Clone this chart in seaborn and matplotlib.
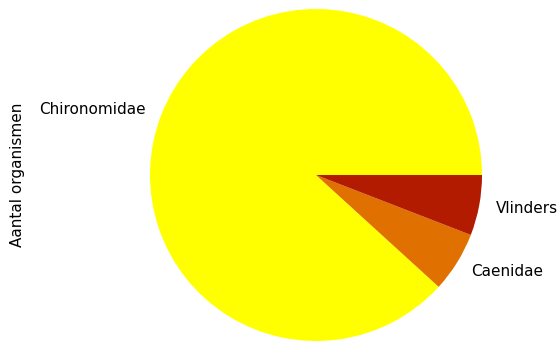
import seaborn as sns
import matplotlib
matplotlib.use("Agg")
import matplotlib.pyplot as plt

# data
soorten = ["Chironomidae", "Caenidae", "Vlinders"]
aantal = [150, 10, 10]
kleuren = ["#FFFF00", "#E07000", "#B31B00"]

sns.set_style("white", {"text.color": "black", "axes.labelcolor": "black"})

fig = plt.figure(figsize=(5.6, 3.41), dpi=100)
ax = fig.add_axes([150 / 560, 0 / 341, 332 / 560, 332 / 341])

ax.pie(aantal, labels=soorten, colors=kleuren, startangle=0,
       counterclock=True, wedgeprops={"linewidth": 0},
       textprops={"fontsize": 11, "color": "black"})
ax.set_xlim(-1, 1)
ax.set_ylim(-1, 1)
ax.set_aspect("equal")
ax.set_ylabel("Aantal organismen", fontsize=11, color="black")
ax.yaxis.set_label_coords(-0.375, 0.5)

fig.savefig("out.png", dpi=100)
